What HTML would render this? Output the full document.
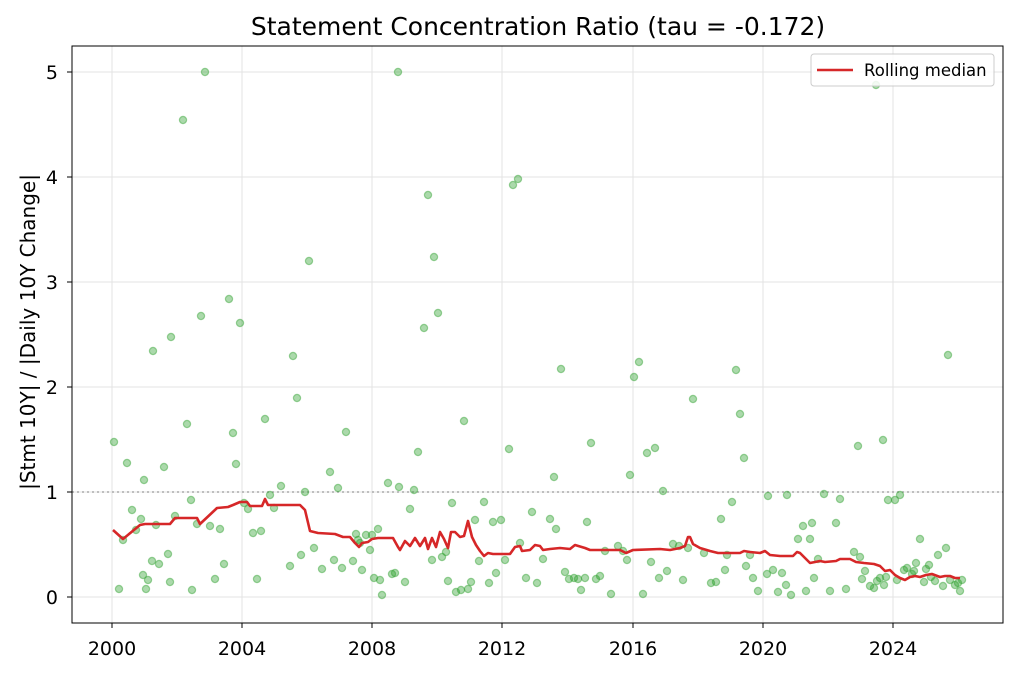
<!DOCTYPE html>
<html><head><meta charset="utf-8"><style>
html,body{margin:0;padding:0;background:#fff;}
svg{display:block;font-family:"DejaVu Sans","Liberation Sans",sans-serif;}
</style></head><body>
<svg width="1017" height="673" viewBox="0 0 1017 673" xmlns="http://www.w3.org/2000/svg">
<rect width="1017" height="673" fill="#fff"/>
<g stroke="#e3e3e3" stroke-width="1">
<line x1="112" y1="46" x2="112" y2="623"/>
<line x1="242" y1="46" x2="242" y2="623"/><line x1="372" y1="46" x2="372" y2="623"/>
<line x1="502" y1="46" x2="502" y2="623"/><line x1="633" y1="46" x2="633" y2="623"/>
<line x1="763" y1="46" x2="763" y2="623"/><line x1="893" y1="46" x2="893" y2="623"/>
<line x1="72" y1="597" x2="1003" y2="597"/><line x1="72" y1="492" x2="1003" y2="492"/>
<line x1="72" y1="387" x2="1003" y2="387"/><line x1="72" y1="282" x2="1003" y2="282"/>
<line x1="72" y1="177" x2="1003" y2="177"/><line x1="72" y1="72" x2="1003" y2="72"/>
</g>
<line x1="72" y1="492" x2="1003" y2="492" stroke="#aaa" stroke-width="1.5" stroke-dasharray="2,3"/>
<g id="pts" fill="rgba(44,160,44,0.4)" stroke="rgba(44,160,44,0.45)" stroke-width="1.2">
</g>
<polyline fill="none" stroke="#d62728" stroke-width="2.6" stroke-linejoin="round" points="113,530 123,539 140,525 145,524 170,524 175,518 197,518 200,524 217,508 228,507 233,505 240,502 247,502 250,506 262,506 265,499 268,505 300,505 305,510 310,531 318,533 335,534 343,537 350,537 355,543 359,547 362,543 368,542 372,539 378,538 393,538 398,547 400,550 405,541 410,546 415,538 420,546 425,538 428,549 432,538 436,547 440,532 444,539 448,548 451,532 455,532 460,537 464,536 468,521 472,537 476,545 480,551 484,556 488,553 493,554 510,554 515,547 520,546 522,551 530,550 535,545 540,546 543,550 550,549 560,548 570,549 575,545 585,548 590,550 620,550 626,553 633,550 660,549 670,550 680,548 685,546 688,537 690,537 693,544 700,548 710,551 718,553 728,553 740,553 744,551 750,552 760,553 765,551 770,555 780,556 793,556 797,552 800,553 805,558 810,563 815,562 820,561 825,562 836,561 840,559 850,559 856,562 864,563 874,564 880,566 885,571 890,570 895,575 900,578 905,580 910,577 915,576 920,577 926,575 932,574 940,577 945,576 950,576 955,578 960,578"/>
<rect x="72" y="46" width="931" height="577" fill="none" stroke="#000" stroke-width="1"/>
<g stroke="#000" stroke-width="1">
<line x1="112" y1="623" x2="112" y2="628"/><line x1="242" y1="623" x2="242" y2="628"/><line x1="372" y1="623" x2="372" y2="628"/><line x1="502" y1="623" x2="502" y2="628"/><line x1="633" y1="623" x2="633" y2="628"/><line x1="763" y1="623" x2="763" y2="628"/><line x1="893" y1="623" x2="893" y2="628"/>
<line x1="67" y1="597" x2="72" y2="597"/><line x1="67" y1="492" x2="72" y2="492"/><line x1="67" y1="387" x2="72" y2="387"/><line x1="67" y1="282" x2="72" y2="282"/><line x1="67" y1="177" x2="72" y2="177"/><line x1="67" y1="72" x2="72" y2="72"/>
</g>
<g font-size="19" fill="#000" text-anchor="middle">
<text x="112" y="655">2000</text><text x="242" y="655">2004</text><text x="372" y="655">2008</text><text x="502" y="655">2012</text><text x="633" y="655">2016</text><text x="763" y="655">2020</text><text x="893" y="655">2024</text>
</g>
<g font-size="19" fill="#000" text-anchor="end">
<text x="58" y="604">0</text><text x="58" y="499">1</text><text x="58" y="394">2</text><text x="58" y="289">3</text><text x="58" y="184">4</text><text x="58" y="79">5</text>
</g>
<text x="538" y="35" font-size="25" text-anchor="middle">Statement Concentration Ratio (tau = -0.172)</text>
<text transform="translate(35,332) rotate(-90)" font-size="20" text-anchor="middle">|Stmt 10Y| / |Daily 10Y Change|</text>
<rect x="811" y="54" width="183" height="32" rx="3" fill="#fff" fill-opacity="0.85" stroke="#ccc"/>
<line x1="817" y1="70" x2="853" y2="70" stroke="#d62728" stroke-width="2.6"/>
<text x="864" y="76" font-size="16.5">Rolling median</text>
<script>
var P=[[114,442],[119,589],[123,540],[127,463],[132,510],[136,530],[141,519],[143,575],[144,480],[146,589],[148,580],[152,561],[153,351],[156,525],[159,564],[164,467],[168,554],[170,582],[171,337],[175,516],[183,120],[187,424],[191,500],[192,590],[197,524],[201,316],[205,72],[210,526],[215,579],[220,529],[224,564],[229,299],[233,433],[236,464],[240,323],[244,503],[248,509],[253,533],[257,579],[261,531],[265,419],[270,495],[274,508],[281,486],[290,566],[293,356],[297,398],[301,555],[305,492],[309,261],[314,548],[322,569],[330,472],[334,560],[338,488],[342,568],[346,432],[353,561],[356,534],[358,540],[360,543],[362,570],[366,535],[370,550],[372,535],[374,578],[378,529],[380,580],[382,595],[388,483],[392,574],[395,573],[398,72],[399,487],[405,582],[410,509],[414,490],[418,452],[424,328],[428,195],[432,560],[434,257],[438,313],[442,557],[446,552],[448,581],[452,503],[456,592],[461,590],[464,421],[468,589],[471,582],[475,520],[479,561],[484,502],[489,583],[493,522],[496,573],[501,520],[505,560],[509,449],[513,185],[518,179],[520,543],[526,578],[532,512],[537,583],[543,559],[550,519],[554,477],[556,529],[561,369],[565,572],[569,579],[574,578],[578,579],[581,590],[585,578],[587,522],[591,443],[596,579],[600,576],[605,551],[611,594],[618,546],[623,551],[627,560],[630,475],[634,377],[639,362],[643,594],[647,453],[651,562],[655,448],[659,578],[663,491],[667,571],[673,544],[679,546],[683,580],[688,548],[693,399],[704,553],[711,583],[716,582],[721,519],[725,570],[727,555],[732,502],[736,370],[740,414],[744,458],[746,566],[750,555],[753,578],[758,591],[767,574],[768,496],[773,570],[778,592],[782,573],[786,585],[787,495],[791,595],[798,539],[803,526],[806,591],[810,539],[812,523],[814,578],[818,559],[824,494],[830,591],[836,523],[840,499],[846,589],[854,552],[858,446],[860,557],[862,579],[865,571],[870,586],[874,588],[876,85],[877,581],[880,578],[883,440],[884,585],[886,577],[888,500],[895,500],[897,580],[900,495],[904,570],[907,568],[912,574],[914,571],[916,563],[920,539],[924,582],[926,569],[929,565],[931,577],[935,581],[938,555],[943,586],[946,548],[948,355],[950,580],[955,585],[958,583],[960,591],[962,580]];
var g=document.getElementById('pts'),ns='http://www.w3.org/2000/svg';
P.forEach(function(p){var c=document.createElementNS(ns,'circle');c.setAttribute('cx',p[0]);c.setAttribute('cy',p[1]);c.setAttribute('r',3.6);g.appendChild(c);});
</script>
</svg>
</body></html>
